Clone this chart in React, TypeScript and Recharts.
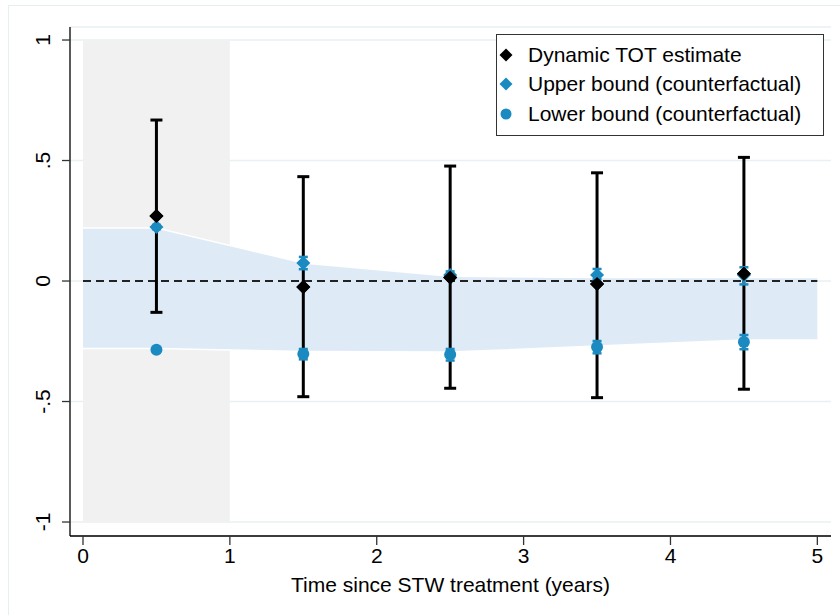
import {
  ComposedChart,
  Area,
  Scatter,
  ErrorBar,
  XAxis,
  YAxis,
  CartesianGrid,
  ReferenceArea,
  ReferenceLine,
  Legend,
} from 'recharts';

// years since treatment for each estimate
const periods = [0.5, 1.5, 2.5, 3.5, 4.5];

// dynamic TOT point estimates and 95% CI
const estimate = [0.27, -0.025, 0.015, -0.012, 0.03];
const estimateLow = [-0.13, -0.48, -0.445, -0.484, -0.449];
const estimateHigh = [0.668, 0.433, 0.477, 0.449, 0.513];

// counterfactual bounds
const upperBound = [0.224, 0.075, 0.025, 0.025, 0.025];
const upperLow = [0.215, 0.049, 0.01, 0.007, -0.014];
const upperHigh = [0.233, 0.1, 0.04, 0.05, 0.057];
const lowerBound = [-0.285, -0.303, -0.305, -0.274, -0.253];
const lowerLow = [-0.294, -0.325, -0.33, -0.3, -0.283];
const lowerHigh = [-0.276, -0.282, -0.282, -0.249, -0.224];

// shaded counterfactual band
const bandX = [0, 0.5, 1.5, 2.5, 3.5, 4.5, 5];
const bandLow = [-0.28, -0.28, -0.292, -0.295, -0.27, -0.245, -0.245];
const bandHigh = [0.22, 0.22, 0.075, 0.02, 0.015, 0.015, 0.015];

const xTicks = [0, 1, 2, 3, 4, 5];
const yTicks = [-1, -0.5, 0, 0.5, 1];
const yTickLabels = ['-1', '-.5', '0', '.5', '1'];

const legendItems = [
  { name: 'Dynamic TOT estimate', shape: 'diamond', color: '#000000' },
  { name: 'Upper bound (counterfactual)', shape: 'diamond', color: '#1b8ac0' },
  { name: 'Lower bound (counterfactual)', shape: 'circle', color: '#1b8ac0' },
];

const BLUE = '#1b8ac0';
const FONT = '"Liberation Sans", Arial, sans-serif';
const FS = 21;

const bandData = bandX.map((x, i) => ({ x, band: [bandLow[i], bandHigh[i]] }));

const makePoints = (vals: number[], lo: number[], hi: number[]) =>
  periods.map((x, i) => ({ x, y: vals[i], err: [vals[i] - lo[i], hi[i] - vals[i]] }));

const estData = makePoints(estimate, estimateLow, estimateHigh);
const upperData = makePoints(upperBound, upperLow, upperHigh);
const lowerData = makePoints(lowerBound, lowerLow, lowerHigh);

function Diamond({ cx, cy, fill, r = 6 }: any) {
  return <path d={`M${cx},${cy - r}L${cx + r},${cy}L${cx},${cy + r}L${cx - r},${cy}Z`} fill={fill} />;
}

function YTick({ x, y, payload }: any) {
  const i = yTicks.indexOf(payload.value);
  const cx = x - 17;
  return (
    <text
      x={cx}
      y={y}
      transform={`rotate(-90 ${cx} ${y})`}
      textAnchor="middle"
      dominantBaseline="central"
      fontSize={FS}
      fontFamily={FONT}
      fill="#000"
    >
      {yTickLabels[i]}
    </text>
  );
}

function LegendBox() {
  return (
    <div
      style={{
        border: '1px solid #333',
        background: '#fff',
        padding: '5px 0 6px 0',
        fontFamily: FONT,
        fontSize: FS,
        width: 328,
        boxSizing: 'border-box',
      }}
    >
      {legendItems.map((it) => (
        <div key={it.name} style={{ display: 'flex', alignItems: 'center', height: 29.5 }}>
          <svg width={30} height={20}>
            {it.shape === 'diamond' ? (
              <Diamond cx={9} cy={10} r={6.5} fill={it.color} />
            ) : (
              <circle cx={9} cy={10} r={5.5} fill={it.color} />
            )}
          </svg>
          <span style={{ marginLeft: 1, whiteSpace: 'nowrap' }}>{it.name}</span>
        </div>
      ))}
    </div>
  );
}

export default function App() {
  return (
    <div style={{ position: 'absolute', left: 0, top: 0, width: 840, height: 615, background: '#fff' }}>
      <div
        style={{
          position: 'absolute',
          left: 8,
          top: 5,
          width: 840,
          height: 615,
          borderLeft: '1px solid #e6eff0',
          borderTop: '1px solid #e6eff0',
        }}
      />
      <ComposedChart
        width={840}
        height={615}
        data={bandData}
        margin={{ top: 27, right: 9, bottom: 9, left: 10 }}
        style={{ position: 'absolute', left: 0, top: 0, fontFamily: FONT }}
      >
        <ReferenceArea x1={0} x2={1} y1={-1} y2={1} fill="#f1f1f1" fillOpacity={1} stroke="none" />
        <CartesianGrid vertical={false} stroke="#e8f0f2" strokeWidth={1.5} />
        <XAxis
          dataKey="x"
          type="number"
          domain={[-0.0885, 5.093]}
          ticks={xTicks}
          allowDataOverflow
          height={70}
          tickSize={9}
          tickMargin={3}
          axisLine={{ stroke: '#000', strokeWidth: 1.3 }}
          tickLine={{ stroke: '#333', strokeWidth: 1.3 }}
          tick={{ fontSize: FS, fill: '#000', fontFamily: FONT }}
          label={{
            value: 'Time since STW treatment (years)',
            position: 'insideBottom',
            offset: 14,
            fontSize: FS,
            fill: '#000',
            fontFamily: FONT,
          }}
        />
        <YAxis
          type="number"
          domain={[-1.058, 1.054]}
          ticks={yTicks}
          allowDataOverflow
          width={60}
          tickSize={8}
          axisLine={{ stroke: '#000', strokeWidth: 1.3 }}
          tickLine={{ stroke: '#333', strokeWidth: 1.3 }}
          tick={<YTick />}
        />
        <Area
          type="linear"
          dataKey="band"
          fill="#deebf7"
          fillOpacity={1}
          stroke="#ffffff"
          strokeWidth={1.5}
          isAnimationActive={false}
          legendType="none"
        />
        <ReferenceLine
          segment={[
            { x: 0, y: 0 },
            { x: 5, y: 0 },
          ]}
          stroke="#222"
          strokeWidth={1.8}
          strokeDasharray="8 5"
        />
        <Scatter
          data={estData}
          dataKey="y"
          isAnimationActive={false}
          shape={(p: any) => <Diamond cx={p.cx} cy={p.cy} r={7} fill="#000" />}
        >
          <ErrorBar dataKey="err" direction="y" width={6} stroke="#000" strokeWidth={3} />
        </Scatter>
        <Scatter
          data={upperData}
          dataKey="y"
          isAnimationActive={false}
          shape={(p: any) => <Diamond cx={p.cx} cy={p.cy} r={7} fill={BLUE} />}
        >
          <ErrorBar dataKey="err" direction="y" width={4.5} stroke={BLUE} strokeWidth={2.5} />
        </Scatter>
        <Scatter
          data={lowerData}
          dataKey="y"
          isAnimationActive={false}
          shape={(p: any) => <circle cx={p.cx} cy={p.cy} r={6} fill={BLUE} />}
        >
          <ErrorBar dataKey="err" direction="y" width={4.5} stroke={BLUE} strokeWidth={2.5} />
        </Scatter>
        <Scatter
          data={estData}
          dataKey="y"
          isAnimationActive={false}
          legendType="none"
          shape={(p: any) => <Diamond cx={p.cx} cy={p.cy} r={7} fill="#000" />}
        />
        <Legend
          layout="vertical"
          align="center"
          verticalAlign="middle"
          wrapperStyle={{ left: 496, top: 34, width: 328 }}
          content={() => <LegendBox />}
        />
      </ComposedChart>
    </div>
  );
}
